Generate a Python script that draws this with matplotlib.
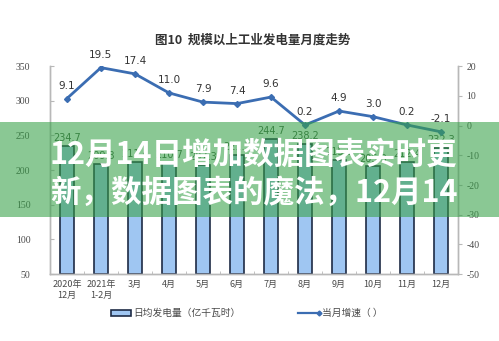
import numpy as np
import matplotlib
matplotlib.use("Agg")
import matplotlib.pyplot as plt
from matplotlib.patches import Rectangle

plt.rcParams['font.family'] = ['Noto Sans CJK SC', 'DejaVu Sans']

# --- data ------------------------------------------------------------------------------------
months = ["2020年\n12月", "2021年\n1-2月", "3月", "4月", "5月", "6月",
          "7月", "8月", "9月", "10月", "11月", "12月"]
daily_gen = [234.7, 209.3, 211.4, 210.7, 207.3, 221.5, 244.7, 238.2, 215.0, 205.3, 212.4, 232.3]
growth = [9.1, 19.5, 17.4, 11.0, 7.9, 7.4, 9.6, 0.2, 4.9, 3.0, 0.2, -2.1]
left_ticks = [50, 100, 150, 200, 250, 300, 350]
right_ticks = [-50, -40, -30, -20, -10, 0, 10, 20]

BAR = "#9fc6f2"
EDGE = "#1e2b45"
LINE = "#3b6db2"
AXC = "#b8b8b8"
TXT = "#4a4a4a"

fig = plt.figure(figsize=(4.99, 3.41), dpi=100)
ax = fig.add_axes([0.100, 0.196, 0.818, 0.610])
x = np.arange(len(months))

ax.bar(x, np.array(daily_gen) - 50, bottom=50, width=0.42, color=BAR, edgecolor=EDGE,
       linewidth=1.2, zorder=2)
for xi, v in zip(x, daily_gen):
    ax.text(xi, v + 4, f"{v:.1f}", ha="center", va="bottom", fontsize=7, color="#3a5a3a",
            family="DejaVu Sans")
ax.set_ylim(50, 350)
ax.set_xlim(-0.5, len(months) - 0.5)
ax.set_yticks(left_ticks)
ax.set_yticklabels([str(t) for t in left_ticks], family="Liberation Serif", fontsize=7, color=TXT)
ax.set_xticks(x)
ax.set_xticklabels(months, fontsize=6.5, color=TXT, linespacing=1.3)
ax.set_xticks(np.arange(len(months) + 1) - 0.5, minor=True)
ax.tick_params(axis="x", which="major", length=0, pad=4)
ax.tick_params(axis="x", which="minor", length=2, color=AXC, direction="in")
ax.tick_params(axis="y", length=3, color=AXC, direction="in", pad=14)

ax2 = ax.twinx()
ax2.plot(x, growth, color=LINE, lw=2, marker="D", ms=3, zorder=3)
for xi, g in zip(x, growth):
    ax2.text(xi, g + 2.6, f"{g:.1f}", ha="center", va="bottom", fontsize=7.5, color="#333333",
             family="DejaVu Sans")
ax2.set_ylim(-50, 20)
ax2.set_yticks(right_ticks)
ax2.set_yticklabels([str(t) for t in right_ticks], family="Liberation Serif", fontsize=7, color=TXT)
ax2.tick_params(axis="y", length=3, color=AXC, direction="out", pad=3)

for a in (ax, ax2):
    a.spines["top"].set_visible(False)
    for s in ("left", "right", "bottom"):
        a.spines[s].set_color(AXC)
        a.spines[s].set_linewidth(1.0)

fig.text(0.507, 0.883, "图10  规模以上工业发电量月度走势", ha="center", va="center",
         fontsize=9, color="#333333", weight="bold")

# legend drawn by hand in figure coords
fig.patches.append(Rectangle((0.222, 0.072), 0.040, 0.020, transform=fig.transFigure,
                             facecolor=BAR, edgecolor=EDGE, lw=1.2))
fig.text(0.267, 0.082, "日均发电量（亿千瓦时）", ha="left", va="center", fontsize=7, color=TXT)
fig.lines.append(plt.Line2D([0.597, 0.640], [0.082, 0.082], transform=fig.transFigure,
                            color=LINE, lw=1.6, marker="D", ms=2.5, markevery=[1]))
fig.text(0.645, 0.082, "当月增速（ ）", ha="left", va="center", fontsize=7, color=TXT)

# green overlay banner with white headline
fig.patches.append(Rectangle((0, 1 - 217 / 341), 1, 95 / 341, transform=fig.transFigure,
                             facecolor=(0.21, 0.63, 0.28), alpha=0.58, lw=0, zorder=10))
fig.text(0.100, 1 - 155 / 341, "12月14日增加数据图表实时更", ha="left", va="center",
         fontsize=22, color="white", weight="bold", zorder=11)
fig.text(0.100, 1 - 193 / 341, "新，数据图表的魔法，12月14", ha="left", va="center",
         fontsize=22, color="white", weight="bold", zorder=11)

fig.savefig("out.png", dpi=100)
